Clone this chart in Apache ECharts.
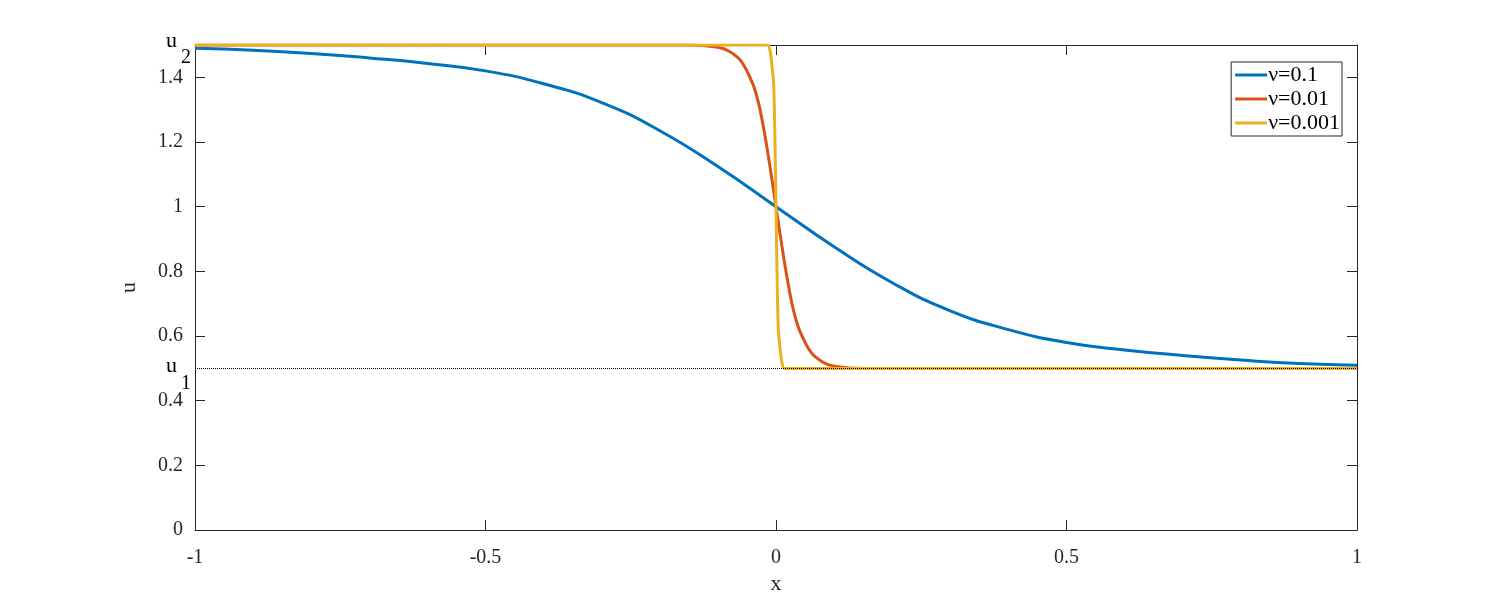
<!DOCTYPE html>
<html>
<head>
<meta charset="utf-8">
<script src="https://cdn.jsdelivr.net/npm/echarts@6/dist/echarts.min.js"></script>
<style>html,body{margin:0;background:#fff}#main{width:1500px;height:600px}</style>
</head>
<body>
<div id="main"></div>
<script>
// values
var blueX = [-1, -0.9, -0.8, -0.7, -0.6, -0.5, -0.4, -0.3, -0.2, -0.1, 0, 0.1, 0.2, 0.3, 0.4, 0.5, 0.6, 0.7, 0.8, 0.9, 1];
var blueY = [1.49, 1.484, 1.474, 1.46, 1.443, 1.42, 1.38, 1.322, 1.235, 1.124, 1.0, 0.876, 0.765, 0.678, 0.62, 0.58, 0.557, 0.54, 0.526, 0.515, 0.51];
var redX = [-1, -0.15, -0.1, -0.08, -0.06, -0.04, -0.03, -0.02, -0.01, 0, 0.01, 0.02, 0.03, 0.04, 0.06, 0.08, 0.1, 0.15, 1];
var redY = [1.5, 1.5, 1.493, 1.48, 1.45, 1.38, 1.32, 1.23, 1.12, 1.0, 0.88, 0.77, 0.68, 0.62, 0.55, 0.52, 0.507, 0.5, 0.5];
var yelX = [-1, -0.015, -0.01, -0.006, -0.004, -0.002, 0, 0.002, 0.004, 0.006, 0.01, 0.015, 1];
var yelY = [1.5, 1.5, 1.48, 1.42, 1.38, 1.23, 1.0, 0.77, 0.62, 0.58, 0.52, 0.5, 0.5];
var names = ['ν=0.1', 'ν=0.01', 'ν=0.001'];
var colors = ['#0072BD', '#D95319', '#EDB120'];

function pairs(xs, ys) {
    var out = [];
    for (var i = 0; i < xs.length; i++) out.push([xs[i], ys[i]]);
    return out;
}

var font = 'Liberation Serif';
function axisCommon(extra) {
    return Object.assign({
        axisLine: {show: true, onZero: false, lineStyle: {color: '#262626', width: 1}},
        axisTick: {show: true, inside: true, length: 10, lineStyle: {color: '#262626'}},
        splitLine: {show: false}
    }, extra);
}

var chart = echarts.init(document.getElementById('main'));
chart.setOption({
    animation: false,
    grid: {left: 195, right: 143, top: 45, bottom: 67},
    xAxis: [
        axisCommon({type: 'value', min: -1, max: 1, interval: 0.5, position: 'bottom', name: 'x', nameLocation: 'middle', nameGap: 42,
            nameTextStyle: {fontFamily: font, fontSize: 22, color: '#262626'},
            axisLabel: {fontFamily: font, fontSize: 20, color: '#262626', margin: 18}}),
        axisCommon({type: 'value', min: -1, max: 1, interval: 0.5, position: 'top', axisLabel: {show: false}})
    ],
    yAxis: [
        axisCommon({type: 'value', min: 0, max: 1.5, interval: 0.2, position: 'left', name: 'u', nameLocation: 'middle', nameGap: 55,
            nameTextStyle: {fontFamily: font, fontSize: 22, color: '#262626'},
            axisLabel: {fontFamily: font, fontSize: 20, color: '#262626', margin: 12, showMaxLabel: false}}),
        axisCommon({type: 'value', min: 0, max: 1.5, interval: 0.2, position: 'right', axisLabel: {show: false}})
    ],
    legend: {
        orient: 'vertical', right: 158, top: 62, itemGap: 2, itemWidth: 32, itemHeight: 3,
        borderColor: '#262626', borderWidth: 1, borderRadius: 0, padding: [2, 2, 2, 4],
        backgroundColor: '#fff',
        icon: 'rect',
        textStyle: {fontFamily: font, fontSize: 22, color: '#000', padding: [0, 0, 0, -4]},
        data: names
    },
    graphic: [
        {type: 'text', left: 166, top: 30, style: {text: 'u', font: '22px "Liberation Serif"', fill: '#000'}},
        {type: 'text', left: 181, top: 48, style: {text: '2', font: '20px "Liberation Serif"', fill: '#000'}},
        {type: 'text', left: 166, top: 355, style: {text: 'u', font: '22px "Liberation Serif"', fill: '#000'}},
        {type: 'text', left: 181, top: 374, style: {text: '1', font: '20px "Liberation Serif"', fill: '#000'}}
    ],
    series: [
        {name: names[0], type: 'line', showSymbol: false, smooth: 0.5, data: pairs(blueX, blueY),
            lineStyle: {width: 3, color: colors[0]}, itemStyle: {color: colors[0]},
            markLine: {silent: true, symbol: 'none', label: {show: false},
                lineStyle: {color: '#000', type: 'dotted', width: 1}, data: [{yAxis: 0.5}]}},
        {name: names[1], type: 'line', showSymbol: false, smooth: 0.3, data: pairs(redX, redY),
            lineStyle: {width: 3, color: colors[1]}, itemStyle: {color: colors[1]}},
        {name: names[2], type: 'line', showSymbol: false, smooth: 0.3, data: pairs(yelX, yelY),
            lineStyle: {width: 3, color: colors[2]}, itemStyle: {color: colors[2]}}
    ]
});
</script>
</body>
</html>
